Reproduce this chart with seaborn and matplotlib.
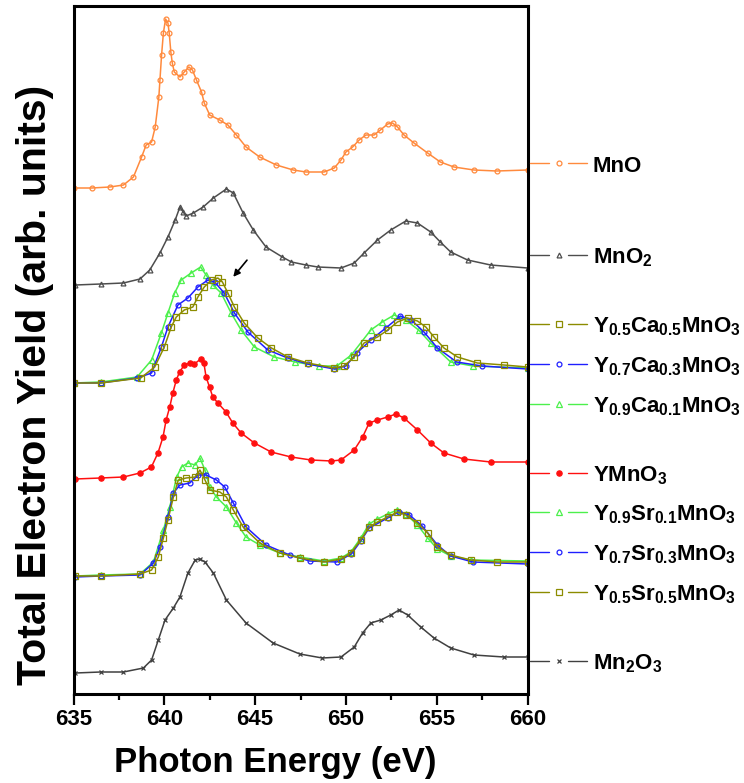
import matplotlib
matplotlib.use("Agg")
import matplotlib.pyplot as plt
from matplotlib.lines import Line2D
from matplotlib.ticker import MultipleLocator
import seaborn as sns

# ---------------- data (photon energy in eV, stacked TEY in arb. units) ----------------
mno_x = [635.0, 636.0, 637.0, 637.75, 638.3, 638.75, 639.0, 639.3, 639.5, 639.7, 639.76, 639.85,
         639.95, 640.07, 640.2, 640.27, 640.36, 640.44, 640.55, 640.86, 641.1, 641.35, 641.55,
         641.77, 642.05, 642.2, 642.5, 643.05, 643.5, 643.97, 644.5, 645.25, 646.17, 647.1,
         647.8, 648.8, 649.36, 649.73, 650.0, 650.37, 650.73, 651.1, 651.55, 651.9, 652.3,
         652.57, 652.84, 653.2, 653.75, 654.5, 655.2, 655.95, 657.05, 658.3, 660.0]
mno_y = [5.12, 5.12, 5.13, 5.15, 5.23, 5.43, 5.55, 5.58, 5.73, 6.03, 6.20, 6.45,
         6.67, 6.81, 6.77, 6.67, 6.48, 6.37, 6.28, 6.23, 6.28, 6.33, 6.30,
         6.20, 6.08, 5.97, 5.85, 5.80, 5.75, 5.65, 5.53, 5.43, 5.35, 5.30,
         5.28, 5.28, 5.32, 5.40, 5.48, 5.53, 5.60, 5.65, 5.65, 5.70, 5.76,
         5.77, 5.73, 5.65, 5.57, 5.47, 5.38, 5.33, 5.30, 5.29, 5.30]

mno2_x = [635.1, 636.5, 637.75, 638.66, 639.2, 639.76, 640.2, 640.6, 640.86, 641.04, 641.2, 641.6,
          642.14, 642.7, 643.42, 643.8, 644.34, 644.9, 645.6, 646.5, 647.0, 647.8, 648.45,
          649.73, 650.46, 651.0, 651.74, 652.47, 653.3, 653.94, 654.67, 655.2, 655.77, 656.7,
          657.97, 660.0]
mno2_y = [4.15, 4.16, 4.17, 4.21, 4.30, 4.47, 4.63, 4.80, 4.93, 4.88, 4.84, 4.87,
          4.93, 5.02, 5.11, 5.07, 4.87, 4.70, 4.53, 4.43, 4.38, 4.35, 4.33,
          4.32, 4.37, 4.47, 4.60, 4.70, 4.79, 4.77, 4.68, 4.58, 4.48, 4.40,
          4.35, 4.32]

yca55_x = [635.0, 636.5, 638.7, 639.47, 640.0, 640.38, 640.66, 641.1, 641.57, 641.85, 642.2, 642.6,
           642.95, 643.2, 643.5, 643.86, 644.4, 645.15, 645.9, 646.8, 647.9, 649.36, 649.9,
           650.46, 651.0, 651.74, 652.3, 652.84, 653.4, 653.94, 654.4, 654.85, 655.4, 656.14,
           657.24, 658.7, 660.0]
yca55_y = [3.17, 3.17, 3.22, 3.33, 3.53, 3.73, 3.83, 3.90, 3.93, 4.03, 4.13, 4.20,
           4.22, 4.18, 4.07, 3.93, 3.77, 3.62, 3.52, 3.43, 3.37, 3.32, 3.34,
           3.43, 3.57, 3.63, 3.70, 3.78, 3.82, 3.79, 3.73, 3.63, 3.52, 3.43,
           3.37, 3.35, 3.33]

yca73_x = [635.0, 636.5, 638.5, 639.3, 639.84, 640.2, 640.75, 641.3, 641.85, 642.4, 642.77, 643.3,
           643.86, 644.6, 645.7, 646.8, 647.9, 649.36, 650.0, 650.6, 651.37, 652.2, 653.0,
           653.6, 654.3, 655.04, 656.1, 657.5, 660.0]
yca73_y = [3.17, 3.17, 3.22, 3.27, 3.53, 3.73, 3.95, 4.02, 4.13, 4.20, 4.18, 4.07,
           3.87, 3.68, 3.50, 3.42, 3.36, 3.31, 3.34, 3.47, 3.60, 3.72, 3.84,
           3.80, 3.68, 3.52, 3.38, 3.34, 3.31]

yca91_x = [635.0, 636.5, 638.5, 639.3, 639.84, 640.2, 640.57, 640.93, 641.48, 642.0, 642.3, 642.67,
           643.13, 643.68, 644.23, 644.96, 646.06, 647.2, 648.5, 649.5, 650.3, 651.37, 652.0,
           652.66, 653.3, 654.0, 654.67, 655.77, 657.0, 660.0]
yca91_y = [3.17, 3.18, 3.23, 3.40, 3.67, 3.87, 4.07, 4.20, 4.27, 4.33, 4.25, 4.15,
           4.07, 3.87, 3.70, 3.53, 3.43, 3.38, 3.34, 3.34, 3.45, 3.70, 3.78,
           3.85, 3.80, 3.70, 3.57, 3.38, 3.34, 3.32]

ymno3_x = [635.1, 636.5, 637.75, 638.66, 639.29, 639.65, 639.93, 640.1, 640.3, 640.47, 640.66, 640.84,
           641.1, 641.4, 641.66, 642.0, 642.18, 642.3, 642.49, 642.67, 642.95, 643.4, 643.77,
           644.23, 644.96, 645.88, 646.98, 648.08, 649.2, 649.73, 650.46, 650.92, 651.28, 651.74,
           652.3, 652.75, 653.2, 653.94, 654.67, 655.4, 656.5, 657.97, 660.0]
ymno3_y = [2.21, 2.22, 2.23, 2.27, 2.33, 2.47, 2.63, 2.80, 2.93, 3.07, 3.20, 3.28,
           3.35, 3.37, 3.36, 3.41, 3.37, 3.23, 3.13, 3.03, 2.97, 2.88, 2.77,
           2.67, 2.57, 2.48, 2.43, 2.40, 2.39, 2.40, 2.50, 2.63, 2.77, 2.80,
           2.83, 2.86, 2.82, 2.70, 2.57, 2.47, 2.41, 2.38, 2.38]

ysr91_x = [635.1, 636.5, 638.66, 639.4, 639.95, 640.3, 640.68, 640.95, 641.3, 641.7, 641.96, 642.24,
           642.5, 642.87, 643.42, 643.97, 644.5, 645.26, 646.36, 647.46, 648.8, 649.73, 650.27,
           650.82, 651.28, 651.74, 652.3, 652.84, 653.3, 653.94, 654.5, 655.04, 655.77, 656.87,
           660.0]
ysr91_y = [1.24, 1.25, 1.26, 1.38, 1.70, 1.93, 2.23, 2.33, 2.37, 2.35, 2.42, 2.30,
           2.13, 2.03, 1.93, 1.77, 1.63, 1.55, 1.47, 1.43, 1.39, 1.42, 1.48,
           1.62, 1.76, 1.81, 1.86, 1.90, 1.86, 1.75, 1.62, 1.51, 1.44, 1.40,
           1.39]

ysr73_x = [635.1, 636.5, 638.66, 639.4, 639.76, 640.2, 640.5, 640.86, 641.4, 641.87, 642.3, 642.87,
           643.33, 643.8, 644.5, 645.6, 646.9, 648.0, 649.5, 650.3, 650.82, 651.28, 652.3,
           652.9, 653.5, 654.2, 655.04, 655.77, 657.0, 660.0]
ysr73_y = [1.23, 1.24, 1.25, 1.37, 1.53, 1.83, 2.07, 2.15, 2.17, 2.25, 2.25, 2.20,
           2.13, 1.97, 1.73, 1.55, 1.45, 1.39, 1.38, 1.46, 1.59, 1.72, 1.82,
           1.88, 1.85, 1.74, 1.55, 1.44, 1.38, 1.36]

ysr55_x = [635.1, 636.5, 638.66, 639.3, 639.67, 639.95, 640.2, 640.5, 640.77, 641.2, 641.7, 641.96,
           642.24, 642.5, 643.06, 643.42, 643.8, 644.34, 645.26, 646.36, 647.46, 648.8, 649.73,
           650.27, 650.82, 651.28, 651.74, 652.3, 652.84, 653.3, 653.94, 654.5, 655.04, 655.77,
           656.87, 658.33, 660.0]
ysr55_y = [1.24, 1.24, 1.26, 1.30, 1.43, 1.62, 1.80, 2.03, 2.20, 2.22, 2.23, 2.30,
           2.20, 2.10, 2.08, 2.03, 1.90, 1.73, 1.57, 1.47, 1.42, 1.38, 1.41,
           1.47, 1.60, 1.73, 1.78, 1.83, 1.88, 1.85, 1.77, 1.67, 1.53, 1.45,
           1.40, 1.38, 1.38]

mn2o3_x = [635.1, 636.5, 637.75, 638.85, 639.3, 639.67, 640.04, 640.5, 640.86, 641.3, 641.7, 641.95,
           642.24, 642.7, 643.42, 644.5, 645.99, 647.46, 648.7, 649.73, 650.46, 650.92, 651.37,
           651.92, 652.47, 652.93, 653.4, 654.12, 654.85, 655.77, 657.05, 658.7, 660.0]
mn2o3_y = [0.27, 0.28, 0.28, 0.32, 0.40, 0.60, 0.80, 0.92, 1.03, 1.27, 1.40, 1.41,
           1.38, 1.27, 1.00, 0.77, 0.57, 0.46, 0.42, 0.43, 0.53, 0.67, 0.77,
           0.80, 0.85, 0.90, 0.85, 0.73, 0.62, 0.52, 0.45, 0.43, 0.43]

x_ticks = [635, 640, 645, 650, 655, 660]
x_label = "Photon Energy (eV)"
y_label = "Total Electron Yield (arb. units)"

# ---------------- style ----------------
sns.set_theme(style="white")
plt.rcParams['font.family'] = ['Liberation Sans', 'DejaVu Sans']
plt.rcParams['mathtext.fontset'] = 'custom'
plt.rcParams['mathtext.rm'] = 'Liberation Sans'
plt.rcParams['mathtext.bf'] = 'Liberation Sans:bold'
plt.rcParams['mathtext.it'] = 'Liberation Sans:italic'

W, H = 744, 783
fig = plt.figure(figsize=(W / 100, H / 100), dpi=100)
fig.patch.set_facecolor('white')
ax = fig.add_axes([73.5 / W, 1 - 694 / H, 454 / W, 688 / H])
ax.set_facecolor('white')

C_OR = '#ff8a3d'
C_GR = '#4d4d4d'
C_OL = '#8c8c00'
C_BL = '#1f1fff'
C_LG = '#4cf04c'
C_RD = '#ff1010'
C_BK = '#404040'

# (x, y, color, marker, facecolor, size, legend label, legend y-pixel)
series = [
    (mno_x, mno_y, C_OR, 'o', 'none', 3.5, 'MnO', 163),
    (mno2_x, mno2_y, C_GR, '^', 'none', 3.5, r'$\mathbf{MnO_{2}}$', 255),
    (yca91_x, yca91_y, C_LG, '^', 'none', 3.8, r'$\mathbf{Y_{0.9}Ca_{0.1}MnO_{3}}$', 404),
    (yca73_x, yca73_y, C_BL, 'o', 'none', 3.5, r'$\mathbf{Y_{0.7}Ca_{0.3}MnO_{3}}$', 364),
    (yca55_x, yca55_y, C_OL, 's', 'none', 4.0, r'$\mathbf{Y_{0.5}Ca_{0.5}MnO_{3}}$', 324),
    (ymno3_x, ymno3_y, C_RD, 'o', C_RD, 3.8, r'$\mathbf{YMnO_{3}}$', 473),
    (ysr91_x, ysr91_y, C_LG, '^', 'none', 3.8, r'$\mathbf{Y_{0.9}Sr_{0.1}MnO_{3}}$', 512),
    (ysr73_x, ysr73_y, C_BL, 'o', 'none', 3.5, r'$\mathbf{Y_{0.7}Sr_{0.3}MnO_{3}}$', 552),
    (ysr55_x, ysr55_y, C_OL, 's', 'none', 4.0, r'$\mathbf{Y_{0.5}Sr_{0.5}MnO_{3}}$', 592),
    (mn2o3_x, mn2o3_y, C_BK, 'x', C_BK, 3.5, r'$\mathbf{Mn_{2}O_{3}}$', 661),
]

for xs, ys, col, mk, mfc, ms, lab, ypix in series:
    sns.lineplot(x=xs, y=ys, ax=ax, color=col, marker=mk, markersize=ms,
                 markerfacecolor=mfc, markeredgecolor=col, markeredgewidth=0.9,
                 linewidth=1.1, sort=False, estimator=None)

ax.set_xlim(635, 660)
ax.set_ylim(0.06, 6.94)
ax.set_xticks(x_ticks)
ax.set_xticklabels([str(t) for t in x_ticks], fontsize=16, fontweight='bold')
ax.xaxis.set_minor_locator(MultipleLocator(2.5))
ax.set_yticks([])
ax.set_xlabel('')
ax.set_ylabel('')
ax.tick_params(axis='x', which='major', direction='out', length=8, width=1.6,
               pad=3, bottom=True, top=False, color='black', labelcolor='black')
ax.tick_params(axis='x', which='minor', direction='out', length=4, width=1.6,
               bottom=True, top=False, color='black')
for sp in ax.spines.values():
    sp.set_visible(True)
    sp.set_color('black')
    sp.set_linewidth(2.2)

# arrow pointing at the Y0.5Ca0.5MnO3 peak shift
ax.annotate('', xy=(643.7, 4.21), xytext=(644.65, 4.42),
            arrowprops=dict(arrowstyle='-|>', color='black', lw=1.2, mutation_scale=10))

# axis labels
fig.text(275 / W, 1 - 772 / H, x_label, ha='center', va='baseline',
         fontsize=25, fontweight='bold', color='black')
fig.text(46 / W, 1 - 385 / H, y_label, ha='center', va='baseline', rotation=90,
         rotation_mode='anchor', fontsize=29.5, fontweight='bold', color='black')

# side legend, one entry level with each spectrum
for xs, ys, col, mk, mfc, ms, lab, ypix in series:
    yf = 1 - ypix / H
    fig.add_artist(Line2D([530 / W, 549 / W], [yf, yf], color=col, lw=1.0,
                          transform=fig.transFigure))
    fig.add_artist(Line2D([568 / W, 587 / W], [yf, yf], color=col, lw=1.0,
                          transform=fig.transFigure))
    fig.add_artist(Line2D([558.5 / W], [yf], marker=mk, ms=ms, mfc=mfc, mec=col,
                          mew=0.9, ls='none', transform=fig.transFigure))
    fig.text(593 / W, 1 - (ypix + 8.5) / H, lab, fontsize=16, fontweight='bold',
             ha='left', va='baseline', color='black')

fig.savefig('out.png', dpi=100)
